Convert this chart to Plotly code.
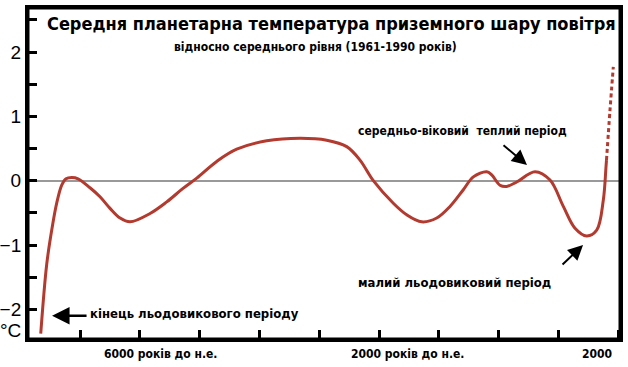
import plotly.graph_objects as go

# x: position along the (schematic) time axis, in tick units; y: anomaly, °C
pos_solid = [0.343, 0.443, 0.532, 0.610, 0.694, 0.766, 0.861, 0.967, 1.167, 1.334,
             1.502, 1.669, 1.836, 2.171, 2.450, 2.722, 2.952, 3.286, 3.620, 4.122,
             4.679, 5.125, 5.460, 5.682, 5.905, 6.239, 6.463, 6.714, 6.965, 7.187,
             7.410, 7.577, 7.801, 7.885, 8.023, 8.135, 8.303, 8.609, 8.860, 9.082,
             9.278, 9.473, 9.640, 9.751, 9.796, 9.804]
temp_solid = [-2.38, -1.30, -0.74, -0.35, -0.07, 0.03, 0.05, 0.03, -0.11, -0.25,
              -0.43, -0.58, -0.64, -0.51, -0.33, -0.12, 0.04, 0.30, 0.49, 0.62,
              0.66, 0.63, 0.53, 0.32, 0.00, -0.35, -0.53, -0.64, -0.58, -0.40,
              -0.14, 0.06, 0.14, 0.09, -0.07, -0.09, -0.02, 0.14, 0.01, -0.40,
              -0.74, -0.86, -0.77, -0.30, 0.22, 0.32]
pos_future = [9.804, 9.863, 9.918]
temp_future = [0.32, 1.10, 1.77]

x_ticks = [1, 2, 3, 4, 5, 6, 7, 8, 9, 10]
y_ticks = [-2, -1.5, -1, -0.5, 0, 0.5, 1, 1.5, 2, 2.5]
y_ticktext = ["−2", "", "−1", "", "0", "", "1", "", "2", ""]
x_label_pos = [2.34, 6.48, 9.65]
x_label_text = ["6000 років до н.е.", "2000 років до н.е.", "2000"]

RED = "#b23a2f"
NARROW = "DejaVu Sans Condensed, Liberation Sans Narrow, sans-serif"
SANS = "Liberation Sans, Arial, sans-serif"


def bold(size):
    return dict(family=NARROW, size=size, color="black", weight="bold")


fig = go.Figure()
fig.add_trace(go.Scatter(x=pos_solid, y=temp_solid, mode="lines",
                         line=dict(color=RED, width=3, shape="spline", smoothing=1.0),
                         hoverinfo="skip", showlegend=False))
fig.add_trace(go.Scatter(x=pos_future, y=temp_future, mode="lines",
                         line=dict(color=RED, width=3, dash="4px,3px", shape="spline"),
                         hoverinfo="skip", showlegend=False))

ann = []
ann.append(dict(x=5.20, y=2.44, text="Середня планетарна температура приземного шару повітря",
                showarrow=False, font=bold(18), xanchor="center", yanchor="middle"))
ann.append(dict(x=4.93, y=2.08, text="відносно середнього рівня (1961-1990 років)",
                showarrow=False, font=bold(12), xanchor="center", yanchor="middle"))
ann.append(dict(x=7.39, y=0.77, text="середньо-віковий  теплий період",
                showarrow=False, font=bold(12), xanchor="center", yanchor="middle"))
ann.append(dict(x=7.27, y=-1.58, text="малий льодовиковий період",
                showarrow=False, font=bold(13), xanchor="center", yanchor="middle"))
ann.append(dict(x=2.92, y=-2.07, text="кінець льодовикового періоду",
                showarrow=False, font=bold(13), xanchor="center", yanchor="middle"))
# arrows
ann.append(dict(x=0.532, y=-2.10, ax=36, ay=0, text="", showarrow=True,
                arrowhead=2, arrowsize=1.4, arrowwidth=2.5, arrowcolor="black"))
ann.append(dict(x=8.475, y=0.244, ax=-25, ay=-21, text="", showarrow=True,
                arrowhead=2, arrowsize=1.5, arrowwidth=2, arrowcolor="black"))
ann.append(dict(x=9.412, y=-1.0, ax=-22, ay=21, text="", showarrow=True,
                arrowhead=2, arrowsize=1.5, arrowwidth=2, arrowcolor="black"))
# x labels
for xp, t in zip(x_label_pos, x_label_text):
    ann.append(dict(x=xp, y=0, yref="paper", yshift=-15, text=t, showarrow=False,
                    font=bold(12), xanchor="center", yanchor="middle"))
ann.append(dict(x=0, xref="paper", xanchor="right", xshift=-5, y=-2.33, text="°C",
                showarrow=False, font=dict(family=SANS, size=19, color="black"),
                yanchor="middle"))

fig.update_layout(
    width=628, height=367,
    margin=dict(l=28, r=8, t=8, b=28),
    paper_bgcolor="white", plot_bgcolor="white",
    annotations=ann,
    shapes=[dict(type="rect", xref="paper", yref="paper", x0=0, x1=1, y0=0, y1=1,
                 line=dict(color="black", width=3), layer="above")],
    xaxis=dict(range=[0.130, 10.03], showgrid=False, zeroline=False,
               showline=True, linecolor="black", linewidth=3, mirror=True,
               ticks="inside", tickvals=x_ticks, ticklen=9, tickwidth=2.5,
               tickcolor="black", showticklabels=False, automargin=False),
    yaxis=dict(range=[-2.462, 2.686], showgrid=False,
               zeroline=True, zerolinecolor="#999999", zerolinewidth=2,
               showline=True, linecolor="black", linewidth=3, mirror=True,
               ticks="inside", tickvals=y_ticks, ticktext=y_ticktext,
               ticklen=9, tickwidth=2.5, tickcolor="black", automargin=False,
               tickfont=dict(family=SANS, size=19, color="black")),
)

fig.write_html("out.html", config={"displayModeBar": False},
               post_script="document.body.style.margin='0';")
